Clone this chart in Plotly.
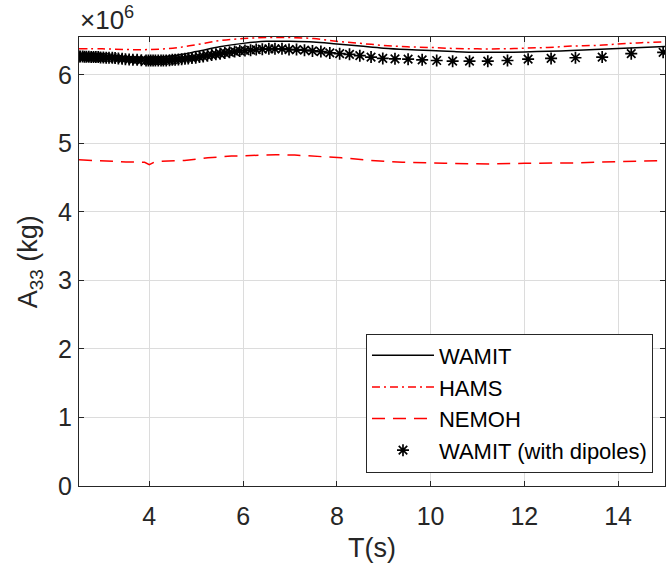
import plotly.graph_objects as go

# Heave added mass A33 (x1e6 kg) against wave period T (s)

# WAMIT, solid line
t_wamit = [2.5, 3.0, 3.5, 4.0, 4.5, 5.0, 5.5, 6.0, 6.5, 7.0, 7.5, 8.0, 8.5, 9.0,
           9.5, 10.0, 10.5, 11.0, 11.5, 12.0, 12.5, 13.0, 13.5, 14.0, 14.5, 15.0]
a_wamit = [6.30, 6.29, 6.27, 6.25, 6.28, 6.34, 6.41, 6.46, 6.49, 6.49, 6.48, 6.45, 6.42, 6.39,
           6.37, 6.355, 6.34, 6.33, 6.33, 6.335, 6.345, 6.355, 6.37, 6.385, 6.40, 6.415]

# HAMS, dash-dot line
t_hams = [2.5, 3.0, 3.5, 4.0, 4.5, 5.0, 5.5, 6.0, 6.5, 7.0, 7.5, 8.0, 8.5, 9.0,
          9.5, 10.0, 10.5, 11.0, 11.5, 12.0, 12.5, 13.0, 13.5, 14.0, 14.5, 15.0]
a_hams = [6.38, 6.38, 6.37, 6.37, 6.39, 6.44, 6.50, 6.53, 6.545, 6.545, 6.53, 6.49, 6.46, 6.43,
          6.41, 6.40, 6.385, 6.38, 6.38, 6.39, 6.40, 6.42, 6.43, 6.45, 6.47, 6.48]

# NEMOH, dashed line
t_nemoh = [2.5, 3.0, 3.5, 3.9, 4.0, 4.1, 4.25, 4.75, 5.25, 5.75, 6.25, 6.7, 7.1, 7.6,
           8.1, 8.65, 9.4, 10.3, 11.25, 12.0, 13.1, 14.0, 15.0]
a_nemoh = [4.76, 4.74, 4.73, 4.725, 4.69, 4.725, 4.74, 4.75, 4.79, 4.815, 4.83, 4.835, 4.83, 4.81,
           4.79, 4.755, 4.725, 4.71, 4.70, 4.71, 4.715, 4.735, 4.75]

# WAMIT with dipoles, star markers
t_dip = [14.96, 14.28, 13.66, 13.09, 12.57, 12.08, 11.64, 11.22, 10.83, 10.47,
         10.13, 9.82, 9.52, 9.24, 8.98, 8.73, 8.49, 8.27, 8.06, 7.85,
         7.66, 7.48, 7.31, 7.14, 6.98, 6.83, 6.68, 6.55, 6.41, 6.28,
         6.16, 6.04, 5.93, 5.82, 5.71, 5.61, 5.51, 5.42, 5.33, 5.24,
         5.15, 5.07, 4.99, 4.91, 4.83, 4.76, 4.69, 4.62, 4.55, 4.49,
         4.43, 4.36, 4.30, 4.25, 4.19, 4.13, 4.08, 4.03, 3.98, 3.93,
         3.83, 3.74, 3.65, 3.57, 3.49, 3.42, 3.34, 3.27, 3.21, 3.14,
         3.08, 3.02, 2.96, 2.91, 2.86, 2.81, 2.76, 2.71, 2.66, 2.62,
         2.58, 2.53, 2.50]
a_dip = [6.33, 6.31, 6.26, 6.25, 6.24, 6.23, 6.21, 6.20, 6.20, 6.20,
         6.21, 6.22, 6.23, 6.235, 6.24, 6.26, 6.28, 6.30, 6.31, 6.32,
         6.34, 6.35, 6.36, 6.37, 6.37, 6.38, 6.38, 6.38, 6.375, 6.37,
         6.36, 6.355, 6.35, 6.34, 6.33, 6.32, 6.31, 6.30, 6.29, 6.28,
         6.27, 6.26, 6.25, 6.245, 6.24, 6.235, 6.23, 6.225, 6.22, 6.22,
         6.215, 6.21, 6.21, 6.21, 6.21, 6.21, 6.21, 6.21, 6.21, 6.21,
         6.215, 6.22, 6.22, 6.225, 6.23, 6.235, 6.24, 6.245, 6.25, 6.25,
         6.25, 6.255, 6.255, 6.26, 6.26, 6.26, 6.26, 6.265, 6.265, 6.265,
         6.27, 6.27, 6.27]

x_ticks = [4, 6, 8, 10, 12, 14]
y_ticks = [0, 1, 2, 3, 4, 5, 6]

FONT = "Liberation Sans, Arial, sans-serif"
INK = "#262626"
RED = "#ff0000"

fig = go.Figure()
fig.add_trace(go.Scatter(x=t_wamit, y=a_wamit, mode="lines", name="WAMIT",
                         line=dict(color="black", width=1.5, shape="spline")))
fig.add_trace(go.Scatter(x=t_hams, y=a_hams, mode="lines", name="HAMS",
                         line=dict(color=RED, width=1.5, dash="8px,4px,2px,4px", shape="spline")))
fig.add_trace(go.Scatter(x=t_nemoh, y=a_nemoh, mode="lines", name="NEMOH",
                         line=dict(color=RED, width=1.5, dash="13px,8px")))
fig.add_trace(go.Scatter(x=t_dip, y=a_dip, mode="markers", name="WAMIT (with dipoles)",
                         marker=dict(symbol="asterisk-open", size=10, color="black",
                                     line=dict(color="black", width=1.7))))

axis_common = dict(
    showline=True, linecolor=INK, linewidth=1.2, mirror="ticks",
    ticks="inside", ticklen=5, tickwidth=1.2, tickcolor=INK,
    showgrid=True, gridcolor="#dcdcdc", gridwidth=1, zeroline=False,
    tickfont=dict(family=FONT, size=25, color=INK),
)

fig.update_layout(
    width=666, height=568,
    margin=dict(l=79, r=1, t=37, b=82),
    paper_bgcolor="white", plot_bgcolor="white",
    showlegend=True,
    legend=dict(x=0.9795, y=0.03, xanchor="right", yanchor="bottom",
                bgcolor="white", bordercolor=INK, borderwidth=1,
                font=dict(family=FONT, size=22, color="black"),
                tracegroupgap=0, itemwidth=62),
    xaxis=dict(range=[2.5, 15], tickvals=x_ticks, ticklabelstandoff=8, **axis_common),
    yaxis=dict(range=[0, 6.553], tickvals=y_ticks, ticklabelstandoff=1, **axis_common),
)

# axis titles and exponent label
fig.add_annotation(text="T(s)", xref="paper", yref="paper", x=0.5, y=-0.139,
                   xanchor="center", yanchor="middle", showarrow=False,
                   font=dict(family=FONT, size=27, color=INK))
fig.add_annotation(text="A<sub>33</sub> (kg)", xref="paper", yref="paper", x=-0.084, y=0.5,
                   xanchor="center", yanchor="middle", textangle=-90, showarrow=False,
                   font=dict(family=FONT, size=27, color=INK))
fig.add_annotation(text="\u00d710<sup>6</sup>", xref="paper", yref="paper", x=-0.002, y=1.0,
                   xanchor="left", yanchor="bottom", showarrow=False,
                   font=dict(family=FONT, size=26, color=INK))

fig.write_html("out.html")
